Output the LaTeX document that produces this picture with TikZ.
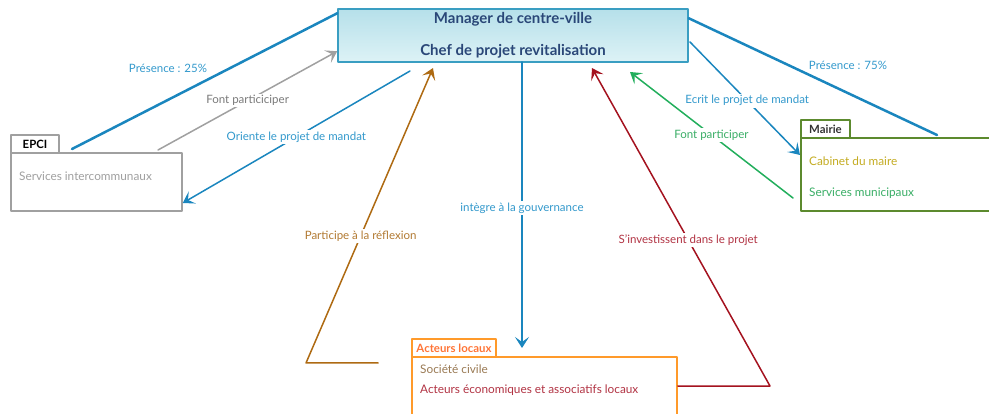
\documentclass[tikz,border=0pt]{standalone}
\usepackage{fontspec}
\setmainfont{Lato}
\usetikzlibrary{arrows.meta}

\definecolor{mgrline}{HTML}{3A9EC2}
\definecolor{mgrtop}{HTML}{B6E0EA}
\definecolor{mgrbot}{HTML}{DDF2F6}
\definecolor{mgrtext}{HTML}{2A4778}
\definecolor{linkblue}{HTML}{1A86BE}
\definecolor{lblblue}{HTML}{3399CC}
\definecolor{epcigray}{HTML}{A0A0A0}
\definecolor{gtext}{HTML}{7A7A7A}
\definecolor{brown}{HTML}{AE6A12}
\definecolor{brtext}{HTML}{B27A32}
\definecolor{darkred}{HTML}{A4121F}
\definecolor{rtext}{HTML}{B23444}
\definecolor{green}{HTML}{22AE5C}
\definecolor{gtxt}{HTML}{3AAE66}
\definecolor{mairie}{HTML}{5C8A2E}
\definecolor{yell}{HTML}{C4AC22}
\definecolor{orange}{HTML}{FF9A2A}
\definecolor{orangetxt}{HTML}{FF7436}
\definecolor{civ}{HTML}{9A7A54}

\tikzset{
  tabbox/.style={draw,line width=1.5pt,inner sep=0pt,font=\fontsize{11.4}{13}\selectfont\bfseries},
  bodybox/.style={draw,line width=1.5pt,fill=white,inner sep=0pt},
  lbl/.style={font=\fontsize{11.5}{13}\selectfont,fill=white,inner sep=1.5pt},
  item/.style={anchor=west,font=\fontsize{11.8}{13}\selectfont,inner sep=0pt},
  link/.style={line width=1.5pt,-{Stealth[length=11pt,width=14pt,inset=5pt]}},
}

\begin{document}
\begin{tikzpicture}[x=1pt,y=-1pt,line cap=round,line join=round]
  \useasboundingbox (0,0) rectangle (989,414);
  \clip (0,0) rectangle (989,414);

  % Manager
  \node[draw=mgrline,line width=1.5pt,top color=mgrtop,bottom color=mgrbot,
        minimum width=350pt,minimum height=53pt,inner sep=0pt,align=center,
        text=mgrtext,font=\fontsize{15}{32}\selectfont\bfseries] (mgr) at (513,35.5)
        {Manager de centre-ville\\Chef de projet revitalisation};

  % EPCI package
  \node[tabbox,draw=epcigray,minimum width=48pt,minimum height=18pt] (epcitab) at (35,144) {EPCI};
  \node[bodybox,draw=epcigray,minimum width=171pt,minimum height=58pt] (epci) at (96.5,182) {};
  \node[item,text=epcigray] (epcisvc) at (19,176) {Services intercommunaux};

  % Mairie package
  \node[tabbox,draw=mairie,text=black!80,minimum width=49pt,minimum height=18pt] (mairietab) at (825.5,129) {Mairie};
  \node[bodybox,draw=mairie,minimum width=198pt,minimum height=73pt] (mairie) at (900,174.5) {};
  \node[item,text=yell] (cabinet) at (809,161) {Cabinet du maire};
  \node[item,text=gtxt] (services) at (809,193) {Services municipaux};

  % Acteurs locaux package
  \node[tabbox,draw=orange,text=orangetxt,minimum width=84pt,minimum height=18pt] (acttab) at (454,348) {Acteurs locaux};
  \node[bodybox,draw=orange,minimum width=265pt,minimum height=63pt] (act) at (544.5,388.5) {};
  \node[item,text=civ] (civile) at (420,369) {Société civile};
  \node[item,text=rtext] (eco) at (420,390) {Acteurs économiques et associatifs locaux};

  % free ends of the links
  \coordinate (p25) at (72,149);
  \coordinate (p75) at (937,135);
  \coordinate (f1a) at (158,150);
  \coordinate (o1a) at (410,71);
  \coordinate (rfl) at (306,363);
  \coordinate (rfla) at (378,363);
  \coordinate (inv) at (770,386);
  \coordinate (f2a) at (793,198);
  \coordinate (ec1) at (690,42);

  % Presence
  \draw[linkblue,line width=2.5pt] (p25) -- ([yshift=-5pt]mgr.north west);
  \draw[linkblue,line width=2.5pt] ([yshift=-10pt]mgr.north east) -- (p75);
  \node[font=\fontsize{11.5}{13}\selectfont,text=lblblue] (pr25) at (168,68) {Présence : 25\%};
  \node[font=\fontsize{11.5}{13}\selectfont,text=lblblue] (pr75) at (848,65) {Présence : 75\%};

  % EPCI links
  \draw[link,epcigray] (f1a) -- ([yshift=-43pt]mgr.north west)
    node[lbl,text=gtext,pos=.5] (lf1) {Font particiciper};
  \draw[link,linkblue] (o1a) -- ([yshift=-21pt]epci.east)
    node[lbl,text=lblblue,pos=.5] (lo1) {Oriente le projet de mandat};

  % Acteurs locaux links
  \draw[link,brown] (rfla) -- (rfl) -- (433,68)
    node[lbl,text=brtext,pos=.43] (lrfl) {Participe à la réflexion};
  \draw[link,linkblue] (522,62) -- (522,348)
    node[lbl,text=lblblue,pos=.51] (lint) {intègre à la gouvernance};
  \draw[link,darkred] ([yshift=2.5pt]act.east) -- (inv) -- (592,68)
    node[lbl,text=rtext,pos=.46] (linv) {S'investissent dans le projet};

  % Mairie links
  \draw[link,linkblue] (ec1) -- (800,155)
    node[lbl,text=lblblue,pos=.52] (lec) {Ecrit le projet de mandat};
  \draw[link,green] (f2a) -- (630,72)
    node[lbl,text=gtxt,pos=.5] (lf2) {Font participer};
\end{tikzpicture}
\end{document}
